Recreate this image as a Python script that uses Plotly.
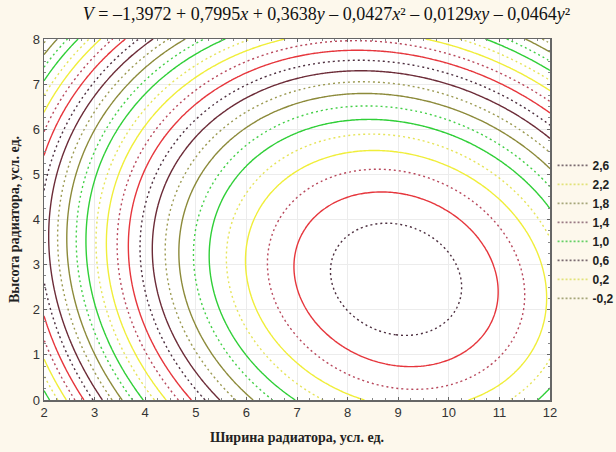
import numpy as np
import plotly.graph_objects as go

# Regression coefficients (from the title equation)
coef_names = ["b0", "x", "y", "x2", "xy", "y2"]
coef_values = [-1.3972, 0.7995, 0.3638, -0.0427, -0.0129, -0.0464]

x_range = [2, 12]
y_range = [0, 8]
x_ticks = [2, 3, 4, 5, 6, 7, 8, 9, 10, 11, 12]
y_ticks = [0, 1, 2, 3, 4, 5, 6, 7, 8]

# contour levels (step 0.1)
levels = [round(-0.2 + 0.1 * i, 1) for i in range(29)]
legend_levels = [2.6, 2.2, 1.8, 1.4, 1.0, 0.6, 0.2, -0.2]

# style per level digit (tenths mod 10)
digit_color = {
    6: "#4e3040", 5: "#e6363c", 4: "#b8485c", 3: "#f0ee3a", 2: "#e6e45a",
    1: "#30cf38", 0: "#44d048", 9: "#8c8a3a", 8: "#9c9a52", 7: "#6c2c38",
}
legend_color = {6: "#7a6a70", 2: "#e2e27a", 8: "#a6a67a", 4: "#9a7a84", 0: "#66d066"}
digit_dash = {6: "dot", 5: "solid", 4: "dot", 3: "solid", 2: "dot",
              1: "solid", 0: "dot", 9: "solid", 8: "dot", 7: "solid"}

b0, bx, by, bxx, bxy, byy = coef_values
xs = np.linspace(x_range[0], x_range[1], 201)
ys = np.linspace(y_range[0], y_range[1], 161)
X, Y = np.meshgrid(xs, ys)
Z = b0 + bx * X + by * Y + bxx * X ** 2 + bxy * X * Y + byy * Y ** 2

fig = go.Figure()
for lv in levels:
    d = int(round(lv * 10)) % 10
    dash = "2px,3px" if digit_dash[d] == "dot" else "solid"
    fig.add_trace(go.Contour(
        x=xs, y=ys, z=Z,
        contours=dict(start=lv, end=lv, size=0.1, coloring="none"),
        line=dict(color=digit_color[d], width=1.4, dash=dash, smoothing=1),
        showscale=False, showlegend=False, hoverinfo="skip",
    ))

for lv in legend_levels:
    d = int(round(lv * 10)) % 10
    fig.add_trace(go.Scatter(
        x=[None], y=[None], mode="lines",
        line=dict(color=legend_color[d], width=1.6, dash="2px,2px"),
        name="<b>" + f"{lv:.1f}".replace(".", ",") + "</b>",
    ))

fig.update_layout(
    width=616, height=452, autosize=False,
    paper_bgcolor="#fdf8ec", plot_bgcolor="#ffffff",
    margin=dict(l=44, r=66, t=39, b=52, autoexpand=False),
    title=dict(
        text="<i>V</i> = –1,3972 + 0,7995<i>x</i> + 0,3638<i>y</i> – 0,0427<i>x</i>² – 0,0129<i>xy</i> – 0,0464<i>y</i>²",
        x=0.53, xanchor="center", y=0.969, yanchor="middle",
        font=dict(family="Liberation Serif, Times New Roman, serif", size=18, color="#111"),
    ),
    font=dict(family="Liberation Sans, Arial, sans-serif", size=12, color="#333"),
    legend=dict(
        xref="container", yref="container",
        x=0.897, y=0.487, xanchor="left", yanchor="middle",
        bgcolor="rgba(0,0,0,0)", font=dict(family="Liberation Sans, Arial", size=12, color="#222"),
        tracegroupgap=0, itemwidth=30,
    ),
    showlegend=True,
)
axis_common = dict(
    showgrid=True, gridcolor="#ececec", gridwidth=1,
    showline=True, linecolor="#666", linewidth=1.5, mirror="ticks",
    ticks="inside", ticklen=3, tickcolor="#666",
    minor=dict(ticks="inside", ticklen=2, tickcolor="#888", showgrid=False),
    zeroline=False, automargin=False,
    tickfont=dict(family="Liberation Sans, Arial", size=13, color="#333"),
)
fig.update_xaxes(range=x_range, tickvals=x_ticks, **axis_common,
                 title=dict(text="<b>Ширина радиатора, усл. ед.</b>", standoff=13,
                            font=dict(family="Liberation Serif, Times New Roman, serif", size=14, color="#222")))
fig.update_yaxes(range=y_range, tickvals=y_ticks, **axis_common,
                 title=dict(text="<b>Высота радиатора, усл. ед.</b>", standoff=10,
                            font=dict(family="Liberation Serif, Times New Roman, serif", size=14, color="#222")))
fig.update_xaxes(minor=dict(dtick=0.25))
fig.update_yaxes(minor=dict(dtick=0.25))

fig.write_html(
    "out.html",
    config={"displayModeBar": False, "responsive": False, "staticPlot": True},
    post_script=(
        "document.documentElement.style.overflow='hidden';"
        "document.body.style.overflow='hidden';"
        "document.body.style.margin='0';"
        "document.body.style.background='#fdf8ec';"
    ),
)
